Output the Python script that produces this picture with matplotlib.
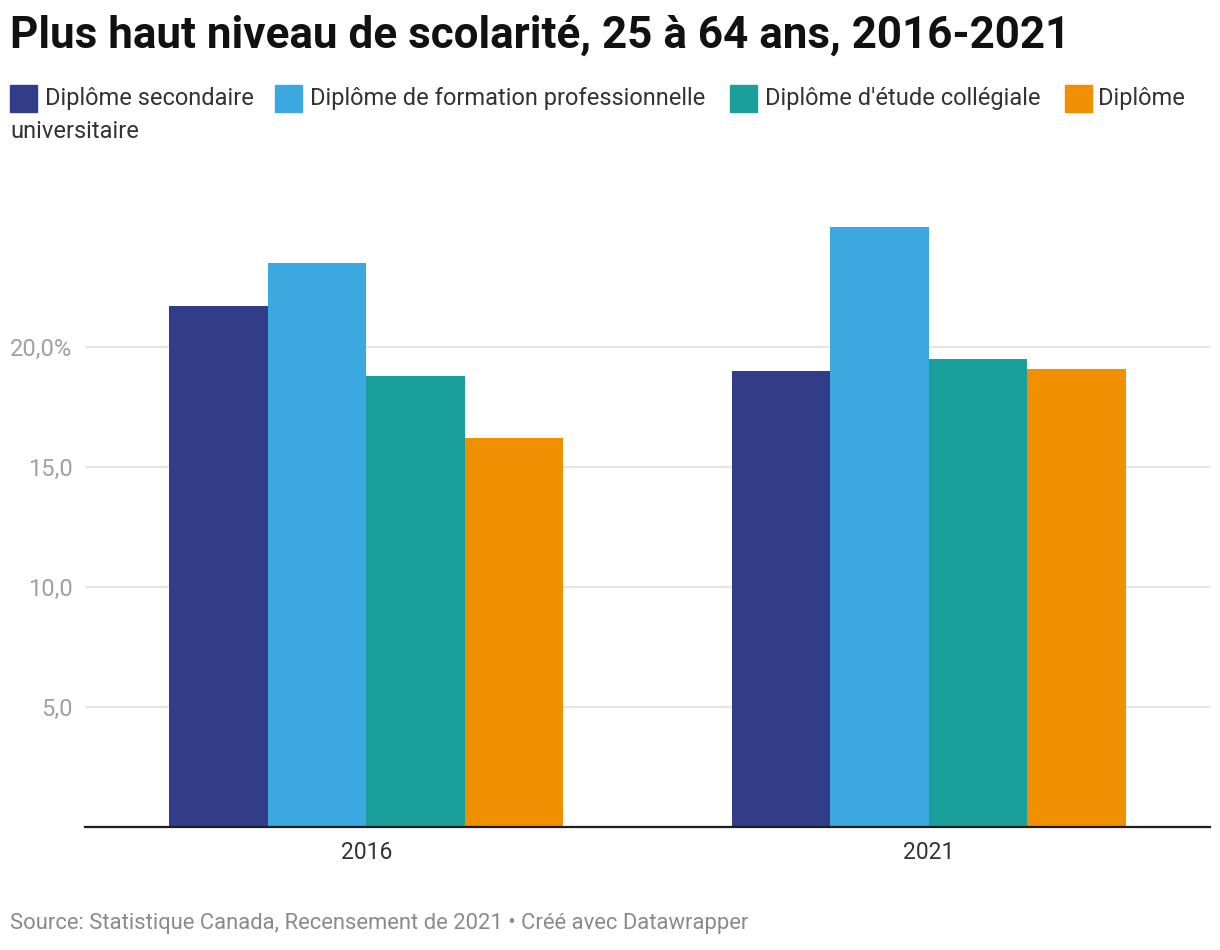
import matplotlib
matplotlib.use('Agg')
import matplotlib.pyplot as plt
import numpy as np
from matplotlib.patches import Rectangle

plt.rcParams['font.family'] = ['Roboto', 'DejaVu Sans']

# donnees
annees = ['2016', '2021']
series = ['Diplôme secondaire', 'Diplôme de formation professionnelle',
          "Diplôme d'étude collégiale", 'Diplôme universitaire']
secondaire = [21.7, 19.0]
professionnelle = [23.5, 25.0]
collegiale = [18.8, 19.5]
universitaire = [16.2, 19.1]
valeurs = [secondaire, professionnelle, collegiale, universitaire]
couleurs = ['#323D8A', '#3BA9E0', '#1AA09A', '#F08F00']

yticks = [5, 10, 15, 20]
ytick_labels = ['5,0', '10,0', '15,0', '20,0%']

W, H = 1220, 950
fig = plt.figure(figsize=(W / 100, H / 100), dpi=100)

ax = fig.add_axes([85 / W, 123 / H, 1125 / W, 627 / H])
x = np.arange(len(annees))
w = 0.175
for i, (vals, c) in enumerate(zip(valeurs, couleurs)):
    ax.bar(x + (i - 1.5) * w, vals, width=w, color=c, zorder=3)

ax.set_xlim(-0.5, 1.5)
ax.set_ylim(0, 26.125)
ax.set_yticks(yticks)
ax.set_yticklabels(ytick_labels)
ax.set_xticks(x)
ax.set_xticklabels(annees)
ax.grid(axis='y', color='#E5E5E5', linewidth=1.5, zorder=0)
for s in ['top', 'right', 'left']:
    ax.spines[s].set_visible(False)
ax.spines['bottom'].set_color('#1D1D1D')
ax.spines['bottom'].set_linewidth(1.6)
ax.spines['bottom'].set_zorder(4)
ax.tick_params(axis='y', length=0, pad=9, labelsize=17, labelcolor='#A0A0A0')
ax.tick_params(axis='x', length=0, pad=10, labelsize=16.5, labelcolor='#333333')

# titre
fig.text(10 / W, 1 - 36 / H, 'Plus haut niveau de scolarité, 25 à 64 ans, 2016-2021',
         fontsize=31.7, fontweight='bold', color='#111111', va='center', ha='left')

# legende
leg = [(10, 45, 99, series[0]), (275, 310, 99, series[1]),
       (730, 765, 99, series[2]), (1065, 1098, 99, 'Diplôme')]
for (sx, tx, ty, txt), c in zip(leg, couleurs):
    fig.patches.append(Rectangle((sx / W, 1 - (ty + 13) / H), 27 / W, 27 / H,
                                 transform=fig.transFigure, color=c))
    fig.text(tx / W, 1 - ty / H, txt, fontsize=17, color='#333333', va='center', ha='left')
fig.text(10 / W, 1 - 132 / H, 'universitaire', fontsize=17, color='#333333',
         va='center', ha='left')

# source
fig.text(10 / W, 1 - 924 / H,
         'Source: Statistique Canada, Recensement de 2021 • Créé avec Datawrapper',
         fontsize=15.8, color='#8A8A8A', va='center', ha='left')

plt.savefig('out.png', dpi=100)
